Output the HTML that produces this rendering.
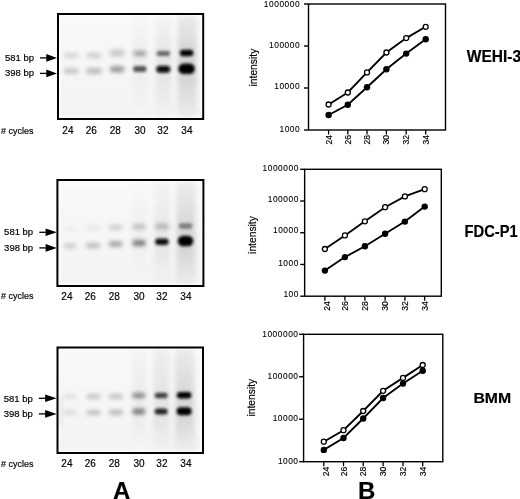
<!DOCTYPE html>
<html><head><meta charset="utf-8"><style>
html,body{margin:0;padding:0;background:#fff;}
body{width:520px;height:499px;overflow:hidden;}
svg{display:block;font-family:"Liberation Sans", sans-serif;filter:grayscale(1);}
text{stroke:#000;stroke-width:0.18px;}
</style></head><body>
<svg width="520" height="499" viewBox="0 0 520 499">
<defs>
<filter id="b1" x="-50%" y="-50%" width="200%" height="200%"><feGaussianBlur stdDeviation="1.7"/></filter>
<filter id="b2" x="-50%" y="-50%" width="200%" height="200%"><feGaussianBlur stdDeviation="1.2"/></filter>
<filter id="bs" x="-50%" y="-20%" width="200%" height="140%"><feGaussianBlur stdDeviation="2.5"/></filter>
</defs>
<linearGradient id="bg0" x1="0" y1="0" x2="0" y2="1"><stop offset="0" stop-color="#f9f9f9"/><stop offset="1" stop-color="#f3f3f3"/></linearGradient>
<rect x="58" y="14" width="145.2" height="105" fill="#fdfdfd"/>
<rect x="60.5" y="16.5" width="140.2" height="100" fill="url(#bg0)" filter="url(#b2)"/>
<linearGradient id="sm0_0" x1="0" y1="0" x2="0" y2="1"><stop offset="0" stop-color="#eaeaea"/><stop offset="0.356" stop-color="#d6d6d6"/><stop offset="0.634" stop-color="#d6d6d6"/><stop offset="1" stop-color="#ececec"/></linearGradient>
<rect x="177.7" y="16" width="19" height="101" fill="url(#sm0_0)" filter="url(#bs)"/>
<linearGradient id="sm0_1" x1="0" y1="0" x2="0" y2="1"><stop offset="0" stop-color="#f4f4f4"/><stop offset="0.356" stop-color="#e6e6e6"/><stop offset="0.634" stop-color="#e6e6e6"/><stop offset="1" stop-color="#f2f2f2"/></linearGradient>
<rect x="155.6" y="16" width="16" height="101" fill="url(#sm0_1)" filter="url(#bs)"/>
<linearGradient id="sm0_2" x1="0" y1="0" x2="0" y2="1"><stop offset="0" stop-color="#f7f7f7"/><stop offset="0.356" stop-color="#eeeeee"/><stop offset="0.634" stop-color="#eeeeee"/><stop offset="1" stop-color="#f5f5f5"/></linearGradient>
<rect x="133.0" y="16" width="14" height="101" fill="url(#sm0_2)" filter="url(#bs)"/>
<rect x="63.95" y="53.35" width="14.50" height="4.50" rx="2.25" fill="#d0d0d0" filter="url(#f2_0)"/>
<rect x="63.95" y="68.25" width="14.50" height="5.50" rx="2.75" fill="#c2c2c2" filter="url(#f2_0)"/>
<rect x="86.50" y="53.15" width="15.00" height="4.50" rx="2.25" fill="#c8c8c8" filter="url(#f2_0)"/>
<rect x="86.25" y="68.05" width="15.50" height="5.70" rx="2.85" fill="#b9b9b9" filter="url(#f2_0)"/>
<rect x="109.70" y="49.75" width="15.00" height="6.50" rx="3.25" fill="#c5c5c5" filter="url(#f2_5)"/>
<rect x="109.95" y="66.30" width="14.50" height="6.00" rx="3.00" fill="#969696" filter="url(#f2_0)"/>
<rect x="133.30" y="50.90" width="13.00" height="5.00" rx="2.50" fill="#9d9d9d" filter="url(#f2_0)"/>
<rect x="133.05" y="66.10" width="13.50" height="6.00" rx="3.00" fill="#545454" filter="url(#f1_8)"/>
<rect x="156.55" y="50.90" width="13.50" height="5.00" rx="2.50" fill="#666666" filter="url(#f1_7)"/>
<rect x="156.30" y="65.80" width="14.00" height="7.00" rx="3.50" fill="#090909" filter="url(#f1_6)"/>
<rect x="179.85" y="49.85" width="13.50" height="6.30" rx="3.15" fill="#000000" filter="url(#f1_6)"/>
<rect x="178.35" y="63.45" width="16.50" height="10.50" rx="5.25" fill="#000000" filter="url(#f1_6)"/>
<rect x="58" y="14" width="145.2" height="105" fill="none" stroke="#000" stroke-width="2"/>
<text transform="translate(5,60.6)" font-size="9.5" fill="#000">581 bp</text>
<text transform="translate(5,75.9)" font-size="9.5" fill="#000">398 bp</text>
<line x1="40.0" y1="57.9" x2="47.7" y2="57.9" stroke="#000" stroke-width="1.3"/>
<polygon points="46.300000000000004,54.1 57.01,57.9 46.300000000000004,61.699999999999996" fill="#000"/>
<line x1="40.0" y1="73.4" x2="47.7" y2="73.4" stroke="#000" stroke-width="1.3"/>
<polygon points="46.300000000000004,69.60000000000001 57.01,73.4 46.300000000000004,77.2" fill="#000"/>
<text x="1.0" y="133.6" font-size="9.2" fill="#000" textLength="32.4" lengthAdjust="spacingAndGlyphs"># cycles</text>
<text x="67.9" y="134.3" font-size="10" fill="#000" text-anchor="middle">24</text>
<text x="91.3" y="134.3" font-size="10" fill="#000" text-anchor="middle">26</text>
<text x="115.2" y="134.3" font-size="10" fill="#000" text-anchor="middle">28</text>
<text x="140.0" y="134.3" font-size="10" fill="#000" text-anchor="middle">30</text>
<text x="162.89999999999998" y="134.3" font-size="10" fill="#000" text-anchor="middle">32</text>
<text x="186.89999999999998" y="134.3" font-size="10" fill="#000" text-anchor="middle">34</text>
<linearGradient id="bg1" x1="0" y1="0" x2="0" y2="1"><stop offset="0" stop-color="#f9f9f9"/><stop offset="1" stop-color="#f3f3f3"/></linearGradient>
<rect x="57.4" y="180" width="146.0" height="106" fill="#fdfdfd"/>
<rect x="59.9" y="182.5" width="141.0" height="101" fill="url(#bg1)" filter="url(#b2)"/>
<linearGradient id="sm1_0" x1="0" y1="0" x2="0" y2="1"><stop offset="0" stop-color="#ececec"/><stop offset="0.422" stop-color="#d8d8d8"/><stop offset="0.716" stop-color="#d8d8d8"/><stop offset="1" stop-color="#ececec"/></linearGradient>
<rect x="176.5" y="182" width="19" height="102" fill="url(#sm1_0)" filter="url(#bs)"/>
<linearGradient id="sm1_1" x1="0" y1="0" x2="0" y2="1"><stop offset="0" stop-color="#f4f4f4"/><stop offset="0.422" stop-color="#e8e8e8"/><stop offset="0.716" stop-color="#e8e8e8"/><stop offset="1" stop-color="#f2f2f2"/></linearGradient>
<rect x="154.3" y="182" width="16" height="102" fill="url(#sm1_1)" filter="url(#bs)"/>
<linearGradient id="sm1_2" x1="0" y1="0" x2="0" y2="1"><stop offset="0" stop-color="#f8f8f8"/><stop offset="0.422" stop-color="#f0f0f0"/><stop offset="0.716" stop-color="#f0f0f0"/><stop offset="1" stop-color="#f6f6f6"/></linearGradient>
<rect x="132.4" y="182" width="14" height="102" fill="url(#sm1_2)" filter="url(#bs)"/>
<rect x="63.90" y="226.75" width="13.00" height="4.50" rx="2.25" fill="#ececec" filter="url(#f2_2)"/>
<rect x="64.15" y="243.50" width="12.50" height="5.00" rx="2.50" fill="#cacaca" filter="url(#f2_2)"/>
<rect x="86.50" y="225.75" width="13.00" height="4.50" rx="2.25" fill="#e4e4e4" filter="url(#f2_2)"/>
<rect x="86.00" y="242.85" width="14.00" height="5.50" rx="2.75" fill="#bebebe" filter="url(#f2_2)"/>
<rect x="109.10" y="225.00" width="13.00" height="5.00" rx="2.50" fill="#cccccc" filter="url(#f2_3)"/>
<rect x="108.60" y="241.35" width="14.00" height="5.50" rx="2.75" fill="#a2a2a2" filter="url(#f2_1)"/>
<rect x="132.60" y="224.20" width="13.00" height="5.00" rx="2.50" fill="#bababa" filter="url(#f2_2)"/>
<rect x="132.35" y="240.10" width="13.50" height="6.00" rx="3.00" fill="#7d7d7d" filter="url(#f1_9)"/>
<rect x="155.15" y="223.90" width="13.50" height="5.00" rx="2.50" fill="#afafaf" filter="url(#f2_0)"/>
<rect x="155.15" y="238.45" width="13.50" height="6.50" rx="3.25" fill="#0e0e0e" filter="url(#f1_6)"/>
<rect x="178.75" y="223.25" width="13.50" height="5.50" rx="2.75" fill="#7b7b7b" filter="url(#f1_8)"/>
<rect x="177.75" y="235.75" width="15.50" height="10.50" rx="5.25" fill="#000000" filter="url(#f1_6)"/>
<rect x="57.4" y="180" width="146.0" height="106" fill="none" stroke="#000" stroke-width="2"/>
<text transform="translate(4.1,235.0)" font-size="9.5" fill="#000">581 bp</text>
<text transform="translate(4.1,250.8)" font-size="9.5" fill="#000">398 bp</text>
<line x1="39.3" y1="232.3" x2="47" y2="232.3" stroke="#000" stroke-width="1.3"/>
<polygon points="45.6,228.5 56.8,232.3 45.6,236.10000000000002" fill="#000"/>
<line x1="39.3" y1="247.9" x2="47" y2="247.9" stroke="#000" stroke-width="1.3"/>
<polygon points="45.6,244.1 56.8,247.9 45.6,251.70000000000002" fill="#000"/>
<text x="1.0" y="298.8" font-size="9.2" fill="#000" textLength="32.4" lengthAdjust="spacingAndGlyphs"># cycles</text>
<text x="66.9" y="300.3" font-size="10" fill="#000" text-anchor="middle">24</text>
<text x="90.3" y="300.3" font-size="10" fill="#000" text-anchor="middle">26</text>
<text x="114.2" y="300.3" font-size="10" fill="#000" text-anchor="middle">28</text>
<text x="139.0" y="300.3" font-size="10" fill="#000" text-anchor="middle">30</text>
<text x="161.89999999999998" y="300.3" font-size="10" fill="#000" text-anchor="middle">32</text>
<text x="185.89999999999998" y="300.3" font-size="10" fill="#000" text-anchor="middle">34</text>
<linearGradient id="bg2" x1="0" y1="0" x2="0" y2="1"><stop offset="0" stop-color="#f9f9f9"/><stop offset="1" stop-color="#f3f3f3"/></linearGradient>
<rect x="57.5" y="347.5" width="145.5" height="105.5" fill="#fdfdfd"/>
<rect x="60.0" y="350.0" width="140.5" height="100.5" fill="url(#bg2)" filter="url(#b2)"/>
<linearGradient id="sm2_0" x1="0" y1="0" x2="0" y2="1"><stop offset="0" stop-color="#eaeaea"/><stop offset="0.440" stop-color="#d8d8d8"/><stop offset="0.709" stop-color="#d8d8d8"/><stop offset="1" stop-color="#eeeeee"/></linearGradient>
<rect x="175.1" y="349.5" width="19" height="101.5" fill="url(#sm2_0)" filter="url(#bs)"/>
<linearGradient id="sm2_1" x1="0" y1="0" x2="0" y2="1"><stop offset="0" stop-color="#eeeeee"/><stop offset="0.440" stop-color="#e4e4e4"/><stop offset="0.709" stop-color="#e4e4e4"/><stop offset="1" stop-color="#f2f2f2"/></linearGradient>
<rect x="153.6" y="349.5" width="16" height="101.5" fill="url(#sm2_1)" filter="url(#bs)"/>
<linearGradient id="sm2_2" x1="0" y1="0" x2="0" y2="1"><stop offset="0" stop-color="#f4f4f4"/><stop offset="0.440" stop-color="#ececec"/><stop offset="0.709" stop-color="#ececec"/><stop offset="1" stop-color="#f6f6f6"/></linearGradient>
<rect x="132.0" y="349.5" width="14" height="101.5" fill="url(#sm2_2)" filter="url(#bs)"/>
<rect x="63.00" y="394.35" width="14.00" height="4.50" rx="2.25" fill="#dfdfdf" filter="url(#f2_1)"/>
<rect x="63.00" y="410.00" width="14.00" height="5.00" rx="2.50" fill="#dcdcdc" filter="url(#f2_1)"/>
<rect x="86.60" y="394.10" width="14.00" height="5.00" rx="2.50" fill="#c4c4c4" filter="url(#f2_1)"/>
<rect x="86.60" y="410.00" width="14.00" height="5.00" rx="2.50" fill="#bfbfbf" filter="url(#f2_1)"/>
<rect x="108.80" y="393.90" width="14.00" height="5.00" rx="2.50" fill="#bfbfbf" filter="url(#f2_1)"/>
<rect x="108.80" y="409.80" width="14.00" height="5.00" rx="2.50" fill="#b5b5b5" filter="url(#f2_1)"/>
<rect x="132.30" y="393.00" width="13.00" height="5.00" rx="2.50" fill="#808080" filter="url(#f1_9)"/>
<rect x="132.30" y="408.85" width="13.00" height="5.50" rx="2.75" fill="#737373" filter="url(#f1_9)"/>
<rect x="154.70" y="392.75" width="13.00" height="5.50" rx="2.75" fill="#414141" filter="url(#f1_7)"/>
<rect x="154.70" y="408.60" width="13.00" height="6.00" rx="3.00" fill="#222222" filter="url(#f1_7)"/>
<rect x="176.85" y="391.95" width="14.50" height="6.50" rx="3.25" fill="#000000" filter="url(#f1_6)"/>
<rect x="176.60" y="407.20" width="15.00" height="8.00" rx="4.00" fill="#000000" filter="url(#f1_6)"/>
<rect x="58.5" y="396" width="3.5" height="30" fill="#e2e2e2" filter="url(#bs)"/>
<rect x="57.5" y="347.5" width="145.5" height="105.5" fill="none" stroke="#000" stroke-width="2"/>
<text transform="translate(3.7,401.7)" font-size="9.5" fill="#000">581 bp</text>
<text transform="translate(3.7,417.2)" font-size="9.5" fill="#000">398 bp</text>
<line x1="38.8" y1="398.3" x2="46.5" y2="398.3" stroke="#000" stroke-width="1.3"/>
<polygon points="45.1,394.5 56.65,398.3 45.1,402.1" fill="#000"/>
<line x1="38.8" y1="413.9" x2="46.5" y2="413.9" stroke="#000" stroke-width="1.3"/>
<polygon points="45.1,410.09999999999997 56.65,413.9 45.1,417.7" fill="#000"/>
<text x="1.0" y="466.6" font-size="9.2" fill="#000" textLength="32.4" lengthAdjust="spacingAndGlyphs"># cycles</text>
<text x="66.9" y="467.3" font-size="10" fill="#000" text-anchor="middle">24</text>
<text x="90.3" y="467.3" font-size="10" fill="#000" text-anchor="middle">26</text>
<text x="114.2" y="467.3" font-size="10" fill="#000" text-anchor="middle">28</text>
<text x="139.0" y="467.3" font-size="10" fill="#000" text-anchor="middle">30</text>
<text x="161.89999999999998" y="467.3" font-size="10" fill="#000" text-anchor="middle">32</text>
<text x="185.89999999999998" y="467.3" font-size="10" fill="#000" text-anchor="middle">34</text>
<rect x="308.5" y="4" width="137.0" height="126" fill="none" stroke="#000" stroke-width="1.4"/>
<line x1="304.0" y1="4.0" x2="308.5" y2="4.0" stroke="#000" stroke-width="1.4"/>
<text x="299.6" y="6.65" font-size="8.4" fill="#000" style="stroke-width:0.1px" text-anchor="end" textLength="35.74" lengthAdjust="spacing">1000000</text>
<line x1="304.0" y1="46.0" x2="308.5" y2="46.0" stroke="#000" stroke-width="1.4"/>
<text x="299.6" y="48.1" font-size="8.4" fill="#000" style="stroke-width:0.1px" text-anchor="end" textLength="30.52" lengthAdjust="spacing">100000</text>
<line x1="304.0" y1="88.0" x2="308.5" y2="88.0" stroke="#000" stroke-width="1.4"/>
<text x="299.6" y="89.4" font-size="8.4" fill="#000" style="stroke-width:0.1px" text-anchor="end" textLength="25.299999999999997" lengthAdjust="spacing">10000</text>
<line x1="304.0" y1="130.0" x2="308.5" y2="130.0" stroke="#000" stroke-width="1.4"/>
<text x="299.6" y="131.55" font-size="8.4" fill="#000" style="stroke-width:0.1px" text-anchor="end" textLength="20.08" lengthAdjust="spacing">1000</text>
<line x1="328.6" y1="130" x2="328.6" y2="134.5" stroke="#000" stroke-width="1.3"/>
<text transform="translate(331.6,135) rotate(-90)" x="0" y="0" font-size="8.6" fill="#000" text-anchor="end">24</text>
<line x1="347.8" y1="130" x2="347.8" y2="134.5" stroke="#000" stroke-width="1.3"/>
<text transform="translate(350.8,135) rotate(-90)" x="0" y="0" font-size="8.6" fill="#000" text-anchor="end">26</text>
<line x1="367.0" y1="130" x2="367.0" y2="134.5" stroke="#000" stroke-width="1.3"/>
<text transform="translate(370.0,135) rotate(-90)" x="0" y="0" font-size="8.6" fill="#000" text-anchor="end">28</text>
<line x1="386.4" y1="130" x2="386.4" y2="134.5" stroke="#000" stroke-width="1.3"/>
<text transform="translate(389.4,135) rotate(-90)" x="0" y="0" font-size="8.6" fill="#000" text-anchor="end">30</text>
<line x1="406.2" y1="130" x2="406.2" y2="134.5" stroke="#000" stroke-width="1.3"/>
<text transform="translate(409.2,135) rotate(-90)" x="0" y="0" font-size="8.6" fill="#000" text-anchor="end">32</text>
<line x1="425.7" y1="130" x2="425.7" y2="134.5" stroke="#000" stroke-width="1.3"/>
<text transform="translate(428.7,135) rotate(-90)" x="0" y="0" font-size="8.6" fill="#000" text-anchor="end">34</text>
<polyline points="328.6,104.5 347.8,92.5 367.0,72.4 386.4,52.5 406.2,38.1 425.7,26.8" fill="none" stroke="#000" stroke-width="1.85"/>
<polyline points="328.6,115 347.8,104.8 367.0,87.2 386.4,69.2 406.2,53.6 425.7,39.2" fill="none" stroke="#000" stroke-width="1.85"/>
<circle cx="328.6" cy="104.5" r="2.5" fill="#fff" stroke="#000" stroke-width="1.3"/>
<circle cx="347.8" cy="92.5" r="2.5" fill="#fff" stroke="#000" stroke-width="1.3"/>
<circle cx="367.0" cy="72.4" r="2.5" fill="#fff" stroke="#000" stroke-width="1.3"/>
<circle cx="386.4" cy="52.5" r="2.5" fill="#fff" stroke="#000" stroke-width="1.3"/>
<circle cx="406.2" cy="38.1" r="2.5" fill="#fff" stroke="#000" stroke-width="1.3"/>
<circle cx="425.7" cy="26.8" r="2.5" fill="#fff" stroke="#000" stroke-width="1.3"/>
<circle cx="328.6" cy="115" r="3.2" fill="#000"/>
<circle cx="347.8" cy="104.8" r="3.2" fill="#000"/>
<circle cx="367.0" cy="87.2" r="3.2" fill="#000"/>
<circle cx="386.4" cy="69.2" r="3.2" fill="#000"/>
<circle cx="406.2" cy="53.6" r="3.2" fill="#000"/>
<circle cx="425.7" cy="39.2" r="3.2" fill="#000"/>
<text transform="translate(256.9,67.6) rotate(-90)" x="0" y="0" font-size="10.3" fill="#000" text-anchor="middle">intensity</text>
<text transform="translate(466.8,61.6) scale(0.97,1)" x="0" y="0" font-size="16" font-weight="bold" fill="#000">WEHI-3</text>
<rect x="304.65" y="169.3" width="136.65000000000003" height="126.89999999999998" fill="none" stroke="#000" stroke-width="1.4"/>
<line x1="300.15" y1="169.3" x2="304.65" y2="169.3" stroke="#000" stroke-width="1.4"/>
<text x="298.3" y="171.1" font-size="8.4" fill="#000" style="stroke-width:0.1px" text-anchor="end" textLength="35.74" lengthAdjust="spacing">1000000</text>
<line x1="300.15" y1="201.025" x2="304.65" y2="201.025" stroke="#000" stroke-width="1.4"/>
<text x="298.3" y="201.9" font-size="8.4" fill="#000" style="stroke-width:0.1px" text-anchor="end" textLength="30.52" lengthAdjust="spacing">100000</text>
<line x1="300.15" y1="232.75" x2="304.65" y2="232.75" stroke="#000" stroke-width="1.4"/>
<text x="298.3" y="233.1" font-size="8.4" fill="#000" style="stroke-width:0.1px" text-anchor="end" textLength="25.299999999999997" lengthAdjust="spacing">10000</text>
<line x1="300.15" y1="264.475" x2="304.65" y2="264.475" stroke="#000" stroke-width="1.4"/>
<text x="298.3" y="266.0" font-size="8.4" fill="#000" style="stroke-width:0.1px" text-anchor="end" textLength="20.08" lengthAdjust="spacing">1000</text>
<line x1="300.15" y1="296.2" x2="304.65" y2="296.2" stroke="#000" stroke-width="1.4"/>
<text x="298.3" y="296.9" font-size="8.4" fill="#000" style="stroke-width:0.1px" text-anchor="end" textLength="14.86" lengthAdjust="spacing">100</text>
<line x1="324.9" y1="296.2" x2="324.9" y2="300.7" stroke="#000" stroke-width="1.3"/>
<text transform="translate(330.09999999999997,301.2) rotate(-90)" x="0" y="0" font-size="8.6" fill="#000" text-anchor="end">24</text>
<line x1="344.9" y1="296.2" x2="344.9" y2="300.7" stroke="#000" stroke-width="1.3"/>
<text transform="translate(347.9,301.2) rotate(-90)" x="0" y="0" font-size="8.6" fill="#000" text-anchor="end">26</text>
<line x1="364.9" y1="296.2" x2="364.9" y2="300.7" stroke="#000" stroke-width="1.3"/>
<text transform="translate(367.9,301.2) rotate(-90)" x="0" y="0" font-size="8.6" fill="#000" text-anchor="end">28</text>
<line x1="385.1" y1="296.2" x2="385.1" y2="300.7" stroke="#000" stroke-width="1.3"/>
<text transform="translate(388.1,301.2) rotate(-90)" x="0" y="0" font-size="8.6" fill="#000" text-anchor="end">30</text>
<line x1="404.9" y1="296.2" x2="404.9" y2="300.7" stroke="#000" stroke-width="1.3"/>
<text transform="translate(407.9,301.2) rotate(-90)" x="0" y="0" font-size="8.6" fill="#000" text-anchor="end">32</text>
<line x1="424.7" y1="296.2" x2="424.7" y2="300.7" stroke="#000" stroke-width="1.3"/>
<text transform="translate(427.7,301.2) rotate(-90)" x="0" y="0" font-size="8.6" fill="#000" text-anchor="end">34</text>
<polyline points="324.9,249 344.9,235.4 364.9,221.3 385.1,207.2 404.9,196.4 424.7,189.2" fill="none" stroke="#000" stroke-width="1.85"/>
<polyline points="324.9,270.6 344.9,257.1 364.9,246.3 385.1,233.8 404.9,221.6 424.7,206.6" fill="none" stroke="#000" stroke-width="1.85"/>
<circle cx="324.9" cy="249" r="2.5" fill="#fff" stroke="#000" stroke-width="1.3"/>
<circle cx="344.9" cy="235.4" r="2.5" fill="#fff" stroke="#000" stroke-width="1.3"/>
<circle cx="364.9" cy="221.3" r="2.5" fill="#fff" stroke="#000" stroke-width="1.3"/>
<circle cx="385.1" cy="207.2" r="2.5" fill="#fff" stroke="#000" stroke-width="1.3"/>
<circle cx="404.9" cy="196.4" r="2.5" fill="#fff" stroke="#000" stroke-width="1.3"/>
<circle cx="424.7" cy="189.2" r="2.5" fill="#fff" stroke="#000" stroke-width="1.3"/>
<circle cx="324.9" cy="270.6" r="3.2" fill="#000"/>
<circle cx="344.9" cy="257.1" r="3.2" fill="#000"/>
<circle cx="364.9" cy="246.3" r="3.2" fill="#000"/>
<circle cx="385.1" cy="233.8" r="3.2" fill="#000"/>
<circle cx="404.9" cy="221.6" r="3.2" fill="#000"/>
<circle cx="424.7" cy="206.6" r="3.2" fill="#000"/>
<text transform="translate(255.8,235) rotate(-90)" x="0" y="0" font-size="10.3" fill="#000" text-anchor="middle">intensity</text>
<text transform="translate(464.5,236.6) scale(0.91,1)" x="0" y="0" font-size="16.2" font-weight="bold" fill="#000">FDC-P1</text>
<rect x="303.6" y="334.3" width="139.2" height="127.39999999999998" fill="none" stroke="#000" stroke-width="1.4"/>
<line x1="299.1" y1="334.3" x2="303.6" y2="334.3" stroke="#000" stroke-width="1.4"/>
<text x="298" y="337.4" font-size="8.4" fill="#000" style="stroke-width:0.1px" text-anchor="end" textLength="35.74" lengthAdjust="spacing">1000000</text>
<line x1="299.1" y1="376.76666666666665" x2="303.6" y2="376.76666666666665" stroke="#000" stroke-width="1.4"/>
<text x="298" y="379.0" font-size="8.4" fill="#000" style="stroke-width:0.1px" text-anchor="end" textLength="30.52" lengthAdjust="spacing">100000</text>
<line x1="299.1" y1="419.23333333333335" x2="303.6" y2="419.23333333333335" stroke="#000" stroke-width="1.4"/>
<text x="298" y="421.0" font-size="8.4" fill="#000" style="stroke-width:0.1px" text-anchor="end" textLength="25.299999999999997" lengthAdjust="spacing">10000</text>
<line x1="299.1" y1="461.7" x2="303.6" y2="461.7" stroke="#000" stroke-width="1.4"/>
<text x="298" y="463.8" font-size="8.4" fill="#000" style="stroke-width:0.1px" text-anchor="end" textLength="20.08" lengthAdjust="spacing">1000</text>
<line x1="323.8" y1="461.7" x2="323.8" y2="466.2" stroke="#000" stroke-width="1.3"/>
<text transform="translate(329.0,466.7) rotate(-90)" x="0" y="0" font-size="8.6" fill="#000" text-anchor="end">24</text>
<line x1="343.5" y1="461.7" x2="343.5" y2="466.2" stroke="#000" stroke-width="1.3"/>
<text transform="translate(346.5,466.7) rotate(-90)" x="0" y="0" font-size="8.6" fill="#000" text-anchor="end">26</text>
<line x1="363.2" y1="461.7" x2="363.2" y2="466.2" stroke="#000" stroke-width="1.3"/>
<text transform="translate(366.2,466.7) rotate(-90)" x="0" y="0" font-size="8.6" fill="#000" text-anchor="end">28</text>
<line x1="383.1" y1="461.7" x2="383.1" y2="466.2" stroke="#000" stroke-width="1.3"/>
<text transform="translate(386.1,466.7) rotate(-90)" x="0" y="0" font-size="8.6" fill="#000" text-anchor="end">30</text>
<line x1="403" y1="461.7" x2="403" y2="466.2" stroke="#000" stroke-width="1.3"/>
<text transform="translate(406,466.7) rotate(-90)" x="0" y="0" font-size="8.6" fill="#000" text-anchor="end">32</text>
<line x1="422.7" y1="461.7" x2="422.7" y2="466.2" stroke="#000" stroke-width="1.3"/>
<text transform="translate(425.7,466.7) rotate(-90)" x="0" y="0" font-size="8.6" fill="#000" text-anchor="end">34</text>
<polyline points="323.8,441.7 343.5,430.2 363.2,411 383.1,390.8 403,377.9 422.7,365" fill="none" stroke="#000" stroke-width="1.85"/>
<polyline points="323.8,449.9 343.5,438 363.2,418.5 383.1,398 403,383.6 422.7,370.7" fill="none" stroke="#000" stroke-width="1.85"/>
<circle cx="323.8" cy="441.7" r="2.5" fill="#fff" stroke="#000" stroke-width="1.3"/>
<circle cx="343.5" cy="430.2" r="2.5" fill="#fff" stroke="#000" stroke-width="1.3"/>
<circle cx="363.2" cy="411" r="2.5" fill="#fff" stroke="#000" stroke-width="1.3"/>
<circle cx="383.1" cy="390.8" r="2.5" fill="#fff" stroke="#000" stroke-width="1.3"/>
<circle cx="403" cy="377.9" r="2.5" fill="#fff" stroke="#000" stroke-width="1.3"/>
<circle cx="422.7" cy="365" r="2.5" fill="#fff" stroke="#000" stroke-width="1.3"/>
<circle cx="323.8" cy="449.9" r="3.2" fill="#000"/>
<circle cx="343.5" cy="438" r="3.2" fill="#000"/>
<circle cx="363.2" cy="418.5" r="3.2" fill="#000"/>
<circle cx="383.1" cy="398" r="3.2" fill="#000"/>
<circle cx="403" cy="383.6" r="3.2" fill="#000"/>
<circle cx="422.7" cy="370.7" r="3.2" fill="#000"/>
<text transform="translate(255.3,397.7) rotate(-90)" x="0" y="0" font-size="10.3" fill="#000" text-anchor="middle">intensity</text>
<text transform="translate(473.4,403.3) scale(1.025,1)" x="0" y="0" font-size="15.4" font-weight="bold" fill="#000">BMM</text>
<defs><filter id="f2_0" x="-60%" y="-80%" width="220%" height="260%"><feGaussianBlur stdDeviation="2.0"/></filter><filter id="f2_5" x="-60%" y="-80%" width="220%" height="260%"><feGaussianBlur stdDeviation="2.5"/></filter><filter id="f1_8" x="-60%" y="-80%" width="220%" height="260%"><feGaussianBlur stdDeviation="1.8"/></filter><filter id="f1_7" x="-60%" y="-80%" width="220%" height="260%"><feGaussianBlur stdDeviation="1.7"/></filter><filter id="f1_6" x="-60%" y="-80%" width="220%" height="260%"><feGaussianBlur stdDeviation="1.6"/></filter><filter id="f2_2" x="-60%" y="-80%" width="220%" height="260%"><feGaussianBlur stdDeviation="2.2"/></filter><filter id="f2_3" x="-60%" y="-80%" width="220%" height="260%"><feGaussianBlur stdDeviation="2.3"/></filter><filter id="f2_1" x="-60%" y="-80%" width="220%" height="260%"><feGaussianBlur stdDeviation="2.1"/></filter><filter id="f1_9" x="-60%" y="-80%" width="220%" height="260%"><feGaussianBlur stdDeviation="1.9"/></filter></defs>
<text x="113" y="498.7" font-size="24" font-weight="bold" fill="#000">A</text>
<text x="358" y="498.7" font-size="24" font-weight="bold" fill="#000">B</text>
</svg>
</body></html>
